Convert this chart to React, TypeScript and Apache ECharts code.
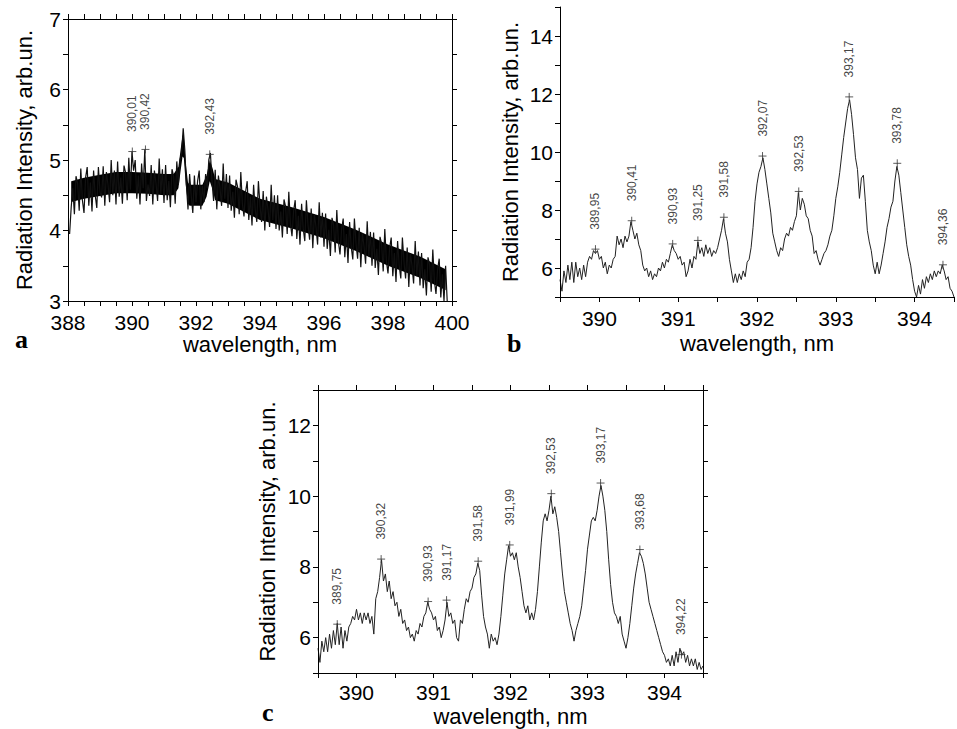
import React, { useEffect, useRef } from "react";
import * as echarts from "echarts";

// ---------- Panel a: 388–400 nm, sampled every 0.05 nm starting at 388.05 ----------
const A_START = 388.05;
const A_STEP = 0.05;
const aIntensity = [
  3.95, 4.33, 4.6, 4.23, 4.77, 4.67, 4.28, 4.88, 4.43, 4.25,
  4.75, 4.9, 4.35, 4.68, 4.27, 4.85, 4.5, 4.32, 4.9, 4.55,
  4.47, 4.91, 4.35, 4.83, 4.65, 4.4, 5.0, 4.5, 4.85, 4.37,
  4.98, 4.48, 4.75, 4.38, 4.92, 4.82, 4.43, 5.03, 4.58, 5.12,
  4.85, 5.0, 4.45, 4.78, 4.37, 4.95, 4.6, 5.15, 4.42, 4.65,
  4.49, 4.93, 4.37, 4.85, 4.67, 4.42, 5.02, 4.52, 4.87, 4.39,
  4.93, 4.43, 4.7, 4.33, 4.87, 4.77, 4.38, 4.98, 4.65, 5.0,
  5.1, 5.45, 5.15, 4.65, 4.3, 4.8, 4.5, 4.25, 4.78, 4.4,
  4.7, 4.85, 4.3, 4.63, 4.4, 4.8, 4.6, 5.0, 5.1, 4.7,
  4.42, 4.86, 4.3, 4.78, 4.6, 4.35, 4.95, 4.45, 4.8, 4.32,
  4.78, 4.28, 4.55, 4.18, 4.72, 4.62, 4.23, 4.83, 4.38, 4.2,
  4.55, 4.7, 4.15, 4.48, 4.07, 4.65, 4.3, 4.12, 4.7, 4.35,
  4.12, 4.56, 4.0, 4.48, 4.3, 4.05, 4.65, 4.15, 4.5, 4.02,
  4.5, 4.0, 4.27, 3.9, 4.44, 4.34, 3.95, 4.55, 4.1, 3.92,
  4.28, 4.43, 3.88, 4.21, 3.8, 4.38, 4.03, 3.85, 4.43, 4.08,
  3.87, 4.31, 3.75, 4.23, 4.05, 3.8, 4.4, 3.9, 4.25, 3.77,
  4.24, 3.74, 4.01, 3.64, 4.18, 4.08, 3.69, 4.29, 3.84, 3.66,
  4.02, 4.17, 3.62, 3.95, 3.54, 4.12, 3.77, 3.59, 4.17, 3.82,
  3.6, 4.04, 3.48, 3.96, 3.78, 3.53, 4.13, 3.63, 3.98, 3.5,
  3.97, 3.47, 3.74, 3.37, 3.91, 3.81, 3.42, 4.02, 3.57, 3.39,
  3.75, 3.9, 3.35, 3.68, 3.27, 3.85, 3.5, 3.32, 3.9, 3.55,
  3.32, 3.76, 3.2, 3.68, 3.5, 3.25, 3.85, 3.35, 3.7, 3.22,
  3.68, 3.18, 3.45, 3.08, 3.62, 3.52, 3.13, 3.73, 3.28, 3.1,
  3.45, 3.6, 3.05, 3.38, 3.0, 3.5, 3.0,
];
// dense core of the noisy band in panel a (upper and lower edge of the solid black part)
const aCoreHighX = [388.1, 388.5, 389, 389.5, 390, 390.5, 391, 391.3, 391.45, 391.52, 391.58, 391.62, 391.68, 391.75, 391.8, 392.2, 392.33, 392.43, 392.52, 392.6, 393, 394, 395, 396, 397, 398, 399, 399.8];
const aCoreHigh = [4.7, 4.75, 4.79, 4.83, 4.83, 4.82, 4.8, 4.8, 4.9, 5.15, 5.35, 5.33, 4.95, 4.68, 4.65, 4.65, 4.78, 5.0, 4.88, 4.73, 4.68, 4.45, 4.33, 4.19, 4.01, 3.8, 3.63, 3.45];
const aCoreLowX = [388.07, 388.5, 389, 389.5, 390, 390.5, 391, 391.3, 391.45, 391.52, 391.58, 391.62, 391.68, 391.75, 391.8, 392.2, 392.33, 392.43, 392.52, 392.6, 393, 394, 395, 396, 397, 398, 399, 399.83];
const aCoreLow = [4.4, 4.45, 4.49, 4.53, 4.53, 4.52, 4.5, 4.5, 4.6, 4.85, 5.05, 5.03, 4.65, 4.38, 4.35, 4.35, 4.48, 4.7, 4.58, 4.43, 4.38, 4.15, 4.03, 3.89, 3.71, 3.5, 3.33, 3.15];
const aPeaks = [390.01, 390.42, 392.43];
const aPeakValues = [5.12, 5.15, 5.08];

// ---------- Panels b and c: 389.5–394.5 nm, sampled every 0.025 nm ----------
const BC_START = 389.5;
const BC_STEP = 0.025;
const bIntensity = [
  5.6, 5.2, 5.9, 5.5, 6.1, 5.6, 6.2, 5.5,
  6.2, 5.7, 6.0, 5.6, 6.1, 5.7, 6.2, 6.4,
  6.3, 6.6, 6.5, 6.6, 6.3, 6.4, 6.0, 6.2,
  5.8, 6.1, 6.0, 6.3, 6.4, 7.1, 6.8, 7.0,
  6.7, 7.1, 6.9, 7.1, 7.6, 7.3, 7.0, 7.2,
  6.8, 6.6, 6.1, 5.9, 6.0, 5.7, 5.9, 5.6,
  5.8, 5.7, 6.0, 5.9, 6.2, 6.0, 6.3, 6.2,
  6.5, 6.8, 6.6, 6.5, 6.3, 6.4, 6.1, 6.2,
  5.7, 5.9, 6.3, 6.0, 6.4, 6.3, 6.9, 6.5,
  6.7, 6.4, 6.8, 6.5, 6.7, 6.4, 6.6, 6.5,
  6.7, 7.0, 7.3, 7.7, 7.2, 6.9, 6.3, 5.9,
  5.5, 5.8, 5.5, 5.8, 5.6, 5.9, 5.7, 6.2,
  6.3, 6.7, 7.4, 8.3, 8.9, 9.3, 9.5, 9.8,
  9.4, 8.9, 8.4, 7.9, 7.2, 6.9, 6.6, 6.4,
  6.7, 6.6, 7.0, 7.2, 7.1, 7.4, 7.3, 7.6,
  7.8, 8.6, 8.0, 8.4, 8.2, 7.8, 7.7, 7.3,
  7.1, 6.5, 6.6, 6.3, 6.1, 6.3, 6.5, 6.6,
  6.8, 7.1, 7.3, 7.8, 8.4, 8.8, 9.3, 9.9,
  10.5, 11.0, 11.5, 11.8, 11.3, 10.6, 9.8, 9.4,
  8.4, 9.1, 9.2, 8.3, 7.3, 6.9, 6.6, 6.1,
  5.8, 6.2, 5.8, 6.1, 6.5, 6.9, 7.4, 7.7,
  8.1, 8.3, 9.0, 9.5, 9.2, 8.6, 8.0, 7.4,
  6.8, 6.4, 6.1, 5.6, 5.2, 5.0, 5.4, 5.1,
  5.6, 5.3, 5.7, 5.5, 5.8, 5.6, 5.9, 5.7,
  5.9, 5.8, 6.1, 5.9, 5.6, 5.7, 5.3, 5.2,
  5.0,
];
const bPeaks = [389.95, 390.41, 390.93, 391.25, 391.58, 392.07, 392.53, 393.17, 393.78, 394.36];
const bPeakValues = [6.65, 7.63, 6.83, 6.95, 7.75, 9.86, 8.64, 11.9, 9.61, 6.11];

const cIntensity = [
  5.7, 5.3, 5.9, 5.6, 6.0, 5.6, 6.1, 5.7,
  6.2, 5.8, 6.4, 5.8, 6.3, 5.7, 6.2, 5.9,
  6.3, 6.4, 6.6, 6.5, 6.8, 6.5, 6.7, 6.4,
  6.7, 6.5, 6.7, 6.4, 6.6, 6.1, 7.1, 7.3,
  7.7, 8.2, 7.6, 7.8, 7.3, 7.6, 7.1, 7.3,
  6.9, 7.0, 6.6, 6.8, 6.4, 6.5, 6.2, 6.3,
  6.0, 6.1, 5.9, 6.2, 6.1, 6.4, 6.3, 6.6,
  6.7, 7.0, 6.8, 6.7, 6.5, 6.6, 6.2, 6.3,
  6.0, 6.2, 6.5, 7.0, 6.6, 6.7, 6.4, 6.5,
  6.0, 5.9, 6.5, 6.4, 6.8, 7.1, 7.0, 7.3,
  7.4, 7.7, 7.8, 8.1, 7.9, 7.2, 6.6, 6.3,
  6.1, 5.7, 6.1, 5.9, 6.0, 5.8, 6.1, 6.6,
  7.2, 7.8, 8.2, 8.6, 8.3, 8.4, 8.2, 8.4,
  8.0, 7.7, 7.3, 6.9, 6.7, 6.9, 6.5, 6.7,
  6.5, 6.8, 7.3, 8.0, 8.7, 9.3, 9.5, 9.3,
  9.6, 10.0, 9.5, 9.7, 9.4, 9.0, 8.4, 7.8,
  7.3, 7.0, 6.7, 6.4, 6.2, 5.9, 6.2, 6.4,
  6.6, 6.9, 7.4, 7.9, 8.5, 8.9, 9.3, 9.4,
  9.3, 9.6, 10.0, 10.3, 10.0, 9.6, 9.0, 8.2,
  7.5, 7.0, 6.7, 6.6, 6.4, 6.6, 6.1, 5.9,
  5.7, 6.0, 6.4, 6.9, 7.4, 7.8, 8.1, 8.4,
  8.3, 8.1, 7.8, 7.4, 7.0, 6.8, 6.6, 6.4,
  6.2, 6.0, 5.8, 5.6, 5.5, 5.3, 5.4, 5.2,
  5.5, 5.2, 5.6, 5.3, 5.7, 5.5, 5.6, 5.3,
  5.5, 5.2, 5.4, 5.2, 5.4, 5.1, 5.3, 5.1,
  5.2,
];
const cPeaks = [389.75, 390.32, 390.93, 391.17, 391.58, 391.99, 392.53, 393.17, 393.68, 394.22];
const cPeakValues = [6.38, 8.22, 7.02, 7.06, 8.16, 8.62, 10.07, 10.37, 8.49, 5.52];

const xTitle = "wavelength, nm";
const yTitle = "Radiation Intensity, arb.un.";
const panelLetters = ["a", "b", "c"];

const FONT = "Liberation Sans, Arial, sans-serif";

const toSeries = (start: number, step: number, ys: number[]) =>
  ys.map((y, i) => [+(start + i * step).toFixed(4), y]);
const zip = (xs: number[], ys: number[]) => xs.map((x, i) => [x, ys[i]]);
const toPeaks = (xs: number[], ys: number[]) =>
  xs.map((x, i) => [x, ys[i], x.toFixed(2).replace(".", ",")]);

const isInt = (v: number) => Math.abs(v - Math.round(v)) < 1e-6;

function xAxisDef(grid: number, min: number, max: number, opts: any) {
  return {
    type: "value",
    gridIndex: grid,
    min,
    max,
    interval: 0.5,
    z: 10,
    position: opts.top ? "top" : "bottom",
    axisLine: { show: true, onZero: false, lineStyle: { color: "#000", width: 1 } },
    axisTick: { show: true, inside: false, length: 5, lineStyle: { color: "#000" } },
    splitLine: { show: false },
    axisLabel: opts.top
      ? { show: false }
      : {
          show: true,
          interval: 0,
          margin: opts.margin,
          fontSize: 21,
          lineHeight: 18,
          color: "#000",
          fontFamily: FONT,
          showMinLabel: true,
          showMaxLabel: true,
          formatter: (v: number) =>
            isInt(v) && (!opts.even || Math.round(v) % 2 === 0) ? String(Math.round(v)) : "",
        },
    name: opts.top ? "" : xTitle,
    nameLocation: "middle",
    nameGap: opts.nameGap,
    nameTextStyle: { fontSize: 22, color: "#000", fontFamily: FONT },
  };
}

function yAxisDef(grid: number, min: number, max: number, opts: any) {
  return {
    type: "value",
    gridIndex: grid,
    min,
    max,
    interval: opts.step,
    z: 10,
    position: opts.right ? "right" : "left",
    axisLine: { show: true, onZero: false, lineStyle: { color: "#000", width: 1 } },
    axisTick: { show: true, inside: false, length: 5, lineStyle: { color: "#000" } },
    splitLine: { show: false },
    axisLabel: opts.right
      ? { show: false }
      : {
          show: true,
          interval: 0,
          margin: 7,
          fontSize: 21,
          lineHeight: 18,
          padding: opts.lift ? [0, 0, 4, 0] : 0,
          color: "#000",
          fontFamily: FONT,
          showMinLabel: true,
          showMaxLabel: true,
          formatter: (v: number) =>
            isInt(v) && (!opts.even || Math.round(v) % 2 === 0) ? String(Math.round(v)) : "",
        },
    name: opts.right ? "" : yTitle,
    nameLocation: "middle",
    nameGap: opts.nameGap,
    nameTextStyle: { fontSize: 22, color: "#000", fontFamily: FONT },
  };
}

function peakSeries(xi: number, yi: number, data: any[]) {
  return {
    type: "scatter",
    xAxisIndex: xi,
    yAxisIndex: yi,
    data,
    symbol: "path://M0,5L10,5M5,0L5,10",
    symbolSize: 8,
    itemStyle: { color: "none", borderColor: "#333", borderWidth: 1 },
    label: {
      show: true,
      position: "top",
      distance: 13,
      rotate: 90,
      align: "left",
      verticalAlign: "middle",
      fontSize: 12,
      color: "#111",
      fontFamily: FONT,
      formatter: (p: any) => p.data[2],
    },
    silent: true,
    z: 5,
  };
}

function lineSeries(xi: number, yi: number, data: any[], width: number, color: string) {
  return {
    type: "line",
    xAxisIndex: xi,
    yAxisIndex: yi,
    data,
    showSymbol: false,
    symbol: "none",
    lineStyle: { color, width },
    clip: true,
    silent: true,
    z: 3,
  };
}

function coreArea(data: any[], color: string, z: number) {
  return {
    type: "line",
    xAxisIndex: 0,
    yAxisIndex: 0,
    data,
    showSymbol: false,
    symbol: "none",
    lineStyle: { width: 0, opacity: 0 },
    areaStyle: { color, opacity: 1, origin: 3.1 },
    silent: true,
    z,
  };
}

export default function App() {
  const ref = useRef<HTMLDivElement>(null);
  useEffect(() => {
    document.body.style.margin = "0";
    if (!ref.current) return;
    const chart = echarts.init(ref.current, undefined, { renderer: "svg" });
    const option: any = {
      animation: false,
      backgroundColor: "#fff",
      grid: [
        { left: 68, top: 19, width: 384, height: 282, containLabel: false, outerBoundsMode: "none" },
        { left: 560, top: 7, width: 394, height: 290, containLabel: false, outerBoundsMode: "none" },
        { left: 318, top: 390, width: 385, height: 283, containLabel: false, outerBoundsMode: "none" },
      ],
      xAxis: [
        xAxisDef(0, 388, 400, { even: true, margin: 12, nameGap: 31 }),
        xAxisDef(0, 388, 400, { top: true }),
        xAxisDef(1, 389.5, 394.5, { even: false, margin: 12.5, nameGap: 35 }),
        xAxisDef(2, 389.5, 394.5, { even: false, margin: 10.5, nameGap: 32 }),
        xAxisDef(2, 389.5, 394.5, { top: true }),
      ],
      yAxis: [
        yAxisDef(0, 3, 7, { step: 0.5, even: false, nameGap: 33, lift: true }),
        yAxisDef(0, 3, 7, { step: 0.5, right: true }),
        yAxisDef(1, 5, 15, { step: 1, even: true, nameGap: 39 }),
        yAxisDef(2, 5, 13, { step: 1, even: true, nameGap: 40 }),
        yAxisDef(2, 5, 13, { step: 1, right: true }),
      ],
      series: [
        coreArea(zip(aCoreHighX, aCoreHigh), "#000", 1),
        coreArea(zip(aCoreLowX, aCoreLow), "#fff", 2),
        lineSeries(0, 0, toSeries(A_START, A_STEP, aIntensity), 1.2, "#111"),
        peakSeries(0, 0, toPeaks(aPeaks, aPeakValues)),
        lineSeries(2, 2, toSeries(BC_START, BC_STEP, bIntensity), 1, "#222"),
        peakSeries(2, 2, toPeaks(bPeaks, bPeakValues)),
        lineSeries(3, 3, toSeries(BC_START, BC_STEP, cIntensity), 1, "#222"),
        peakSeries(3, 3, toPeaks(cPeaks, cPeakValues)),
      ],
      graphic: [
        { type: "text", left: 15, top: 326, style: { text: panelLetters[0], font: 'bold 26px "Liberation Serif"', fill: "#000" } },
        { type: "text", left: 507, top: 330, style: { text: panelLetters[1], font: 'bold 26px "Liberation Serif"', fill: "#000" } },
        { type: "text", left: 262, top: 699, style: { text: panelLetters[2], font: 'bold 26px "Liberation Serif"', fill: "#000" } },
      ],
    };
    chart.setOption(option);
    return () => chart.dispose();
  }, []);
  return <div ref={ref} style={{ width: 957, height: 729 }} />;
}
